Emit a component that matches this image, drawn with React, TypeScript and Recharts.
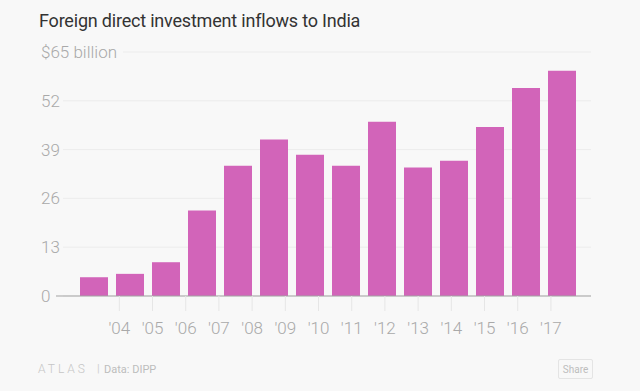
import { BarChart, Bar, XAxis, YAxis, CartesianGrid } from "recharts";

const fiscalYears = [
  "2003-04", "2004-05", "2005-06", "2006-07", "2007-08", "2008-09", "2009-10",
  "2010-11", "2011-12", "2012-13", "2013-14", "2014-15", "2015-16", "2016-17",
];
const endYears = [2004, 2005, 2006, 2007, 2008, 2009, 2010, 2011, 2012, 2013, 2014, 2015, 2016, 2017];
const inflows = [5.0, 5.9, 9.0, 22.8, 34.7, 41.7, 37.6, 34.7, 46.4, 34.2, 36.0, 45.0, 55.4, 60.0];
const yTicks = [0, 13, 26, 39, 52, 65];

const data = fiscalYears.map((fy, i) => ({ fy, year: endYears[i], value: inflows[i] }));

const FONT = "Roboto, 'Open Sans', sans-serif";
const LABEL_GREY = "#a9a9a9";

function YTick(props: any) {
  const v = props.payload.value;
  return (
    <text x={41} y={props.y} dominantBaseline="central" textAnchor="start" fill={LABEL_GREY}
      fontSize={17} fontWeight={300} fontFamily={FONT}>
      {v === 65 ? "$65 billion" : v}
    </text>
  );
}

function XTick(props: any) {
  const yr = String(props.payload.value).slice(2);
  return (
    <text x={props.x} y={props.y + 17} dominantBaseline="central" textAnchor="middle" fill={LABEL_GREY}
      fontSize={17} fontWeight={300} fontFamily={FONT}>
      {"'" + yr}
    </text>
  );
}

function GridLine(p: any) {
  // top line starts after the "$65 billion" label
  const start = p.y1 < 60 ? 123 : 63;
  return <line key={`g-${p.index}`} x1={start} x2={p.x2} y1={p.y1} y2={p.y2} stroke="#ececec" strokeWidth={1} />;
}

export default function App() {
  return (
    <div style={{ position: "absolute", left: 0, top: 0, width: 640, height: 391, background: "#f8f8f8", overflow: "hidden" }}>
      <div style={{ position: "absolute", left: 39, top: 10, fontFamily: FONT, fontSize: 18, color: "#333", letterSpacing: -0.2 }}>
        Foreign direct investment inflows to India
      </div>
      <BarChart width={640} height={340} data={data} margin={{ top: 52, right: 49, bottom: 4, left: 41 }}>
        <CartesianGrid vertical={false} horizontal={GridLine} />
        <YAxis domain={[0, 65]} ticks={yTicks} width={15} axisLine={false} tickLine={false} tick={<YTick />} />
        <XAxis xAxisId="cat" dataKey="fy" hide orientation="top" height={0} padding={{ left: 20, right: 11 }} />
        <XAxis xAxisId="yr" dataKey="year" type="number" domain={[2002.093, 2018.207]} allowDataOverflow
          ticks={endYears} interval={0} height={40} tickSize={15} tickMargin={0}
          axisLine={{ stroke: "#a3a3a3" }} tickLine={{ stroke: "#e6e6e6" }} tick={<XTick />} />
        <Bar xAxisId="cat" dataKey="value" fill="#d264b9" barSize={28} isAnimationActive={false} />
      </BarChart>
      <div style={{ position: "absolute", left: 38, top: 362, fontFamily: FONT, fontSize: 12, fontWeight: 300, color: "#c6c6c6", letterSpacing: 3 }}>
        ATLAS
      </div>
      <div style={{ position: "absolute", left: 97, top: 362, fontFamily: FONT, fontSize: 11, color: "#d0d0d0" }}>|</div>
      <div style={{ position: "absolute", left: 104, top: 363, fontFamily: FONT, fontSize: 11, color: "#bdbdbd" }}>Data: DIPP</div>
      <div style={{ position: "absolute", left: 558, top: 359, width: 33, height: 18, border: "1px solid #e4e4e4", borderRadius: 2,
        fontFamily: FONT, fontSize: 10, color: "#bdbdbd", display: "flex", alignItems: "center", justifyContent: "center" }}>
        Share
      </div>
    </div>
  );
}
